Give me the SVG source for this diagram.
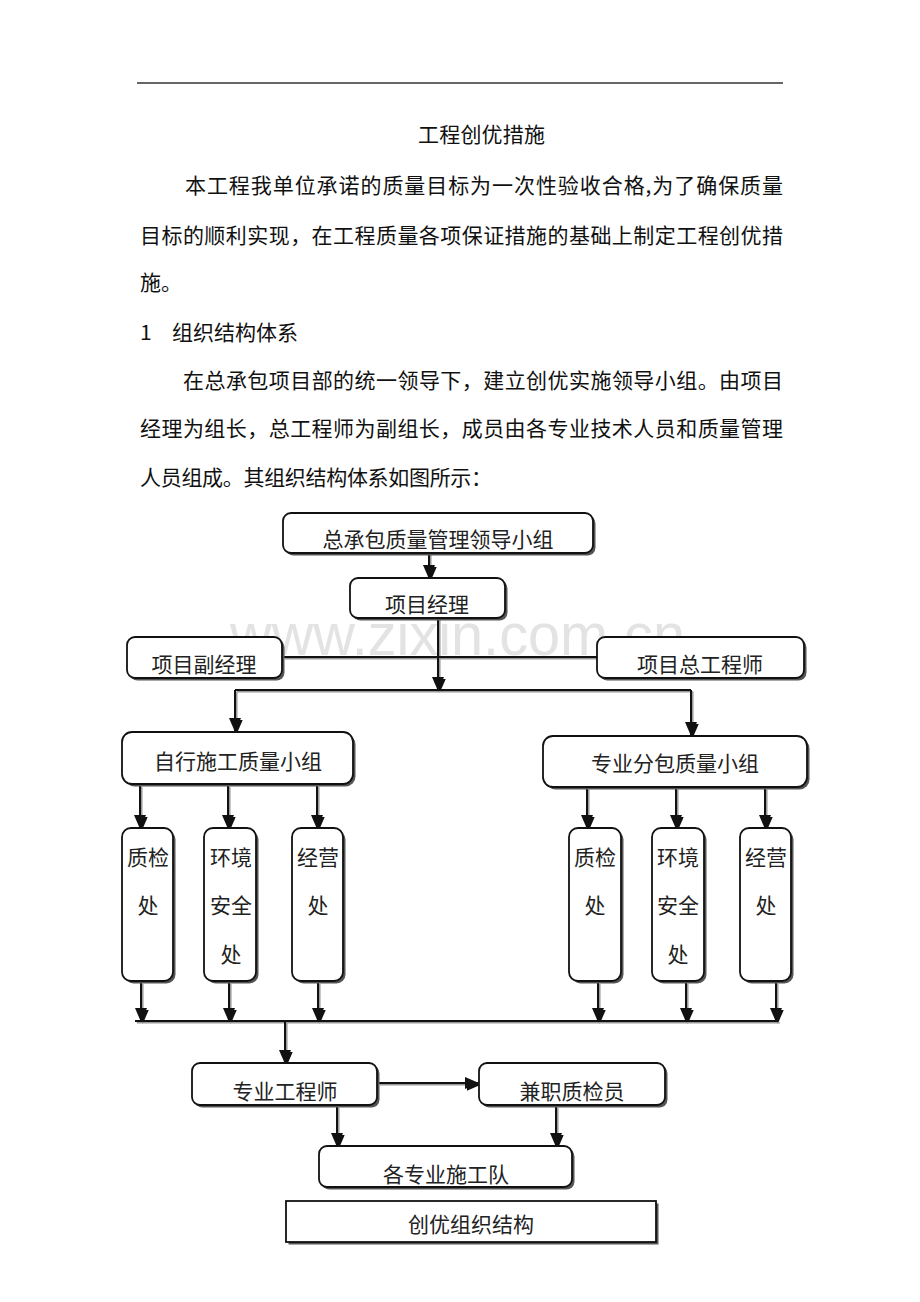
<svg xmlns="http://www.w3.org/2000/svg" xmlns:xlink="http://www.w3.org/1999/xlink" width="920" height="1302" viewBox="0 0 920 1302">
<style>
.t{font-family:"Noto Sans CJK SC","Liberation Serif",sans-serif;font-size:21px;fill:#111}
.d{font-family:"Noto Sans CJK SC","Liberation Sans",sans-serif;font-size:21px;fill:#222;text-anchor:middle}
.box{fill:#fff;stroke:#111;stroke-width:1.8}
.sh{fill:#555}
.wm{font-family:"Liberation Sans",Arial,sans-serif;font-size:60px;fill:#e3e3e3}
</style>
<defs>
<marker id="ah" markerUnits="userSpaceOnUse" markerWidth="14" markerHeight="12" refX="13" refY="6" orient="auto" viewBox="0 0 14 12">
<path d="M0,0 L14,6 L0,12 Z" fill="#111"/>
</marker>
</defs>
<rect width="920" height="1302" fill="#fff"/>
<text class="wm" x="230" y="655" textLength="455" lengthAdjust="spacingAndGlyphs">www.zixin.com.cn</text>
<line x1="137" y1="83" x2="783" y2="83" stroke="#333" stroke-width="1.5"/>
<text class="t" x="418" y="142" font-size="20" textLength="127">工程创优措施</text>
<text class="t" x="185" y="193" textLength="598">本工程我单位承诺的质量目标为一次性验收合格,为了确保质量</text>
<text class="t" x="140" y="243" textLength="643">目标的顺利实现，在工程质量各项保证措施的基础上制定工程创优措</text>
<text class="t" x="140" y="290">施。</text>
<text class="t" x="140" y="340">1</text>
<text class="t" x="172" y="340">组织结构体系</text>
<text class="t" x="183" y="388" textLength="600">在总承包项目部的统一领导下，建立创优实施领导小组。由项目</text>
<text class="t" x="140" y="436" textLength="643">经理为组长，总工程师为副组长，成员由各专业技术人员和质量管理</text>
<text class="t" x="140" y="485" textLength="352">人员组成。其组织结构体系如图所示：</text>

<g stroke="#999" stroke-width="1.5" fill="none"><use xlink:href="#connectors" transform="translate(1.8,1.8)"/></g>
<g stroke="#111" stroke-width="2" fill="none">
<g id="connectors">
<path d="M429,553 V578" marker-end="url(#ah)"/>
<path d="M283,657 H597"/>
<path d="M438,618 V690" marker-end="url(#ah)"/>
<path d="M235,690 H691"/>
<path d="M235,690 V731" marker-end="url(#ah)"/>
<path d="M691,690 V735" marker-end="url(#ah)"/>
<path d="M140,785 V828" marker-end="url(#ah)"/>
<path d="M228,785 V828" marker-end="url(#ah)"/>
<path d="M317,785 V828" marker-end="url(#ah)"/>
<path d="M587,788 V828" marker-end="url(#ah)"/>
<path d="M676,788 V828" marker-end="url(#ah)"/>
<path d="M765,788 V828" marker-end="url(#ah)"/>
<path d="M141,982 V1021" marker-end="url(#ah)"/>
<path d="M229,982 V1021" marker-end="url(#ah)"/>
<path d="M318,982 V1021" marker-end="url(#ah)"/>
<path d="M598,982 V1021" marker-end="url(#ah)"/>
<path d="M686,982 V1021" marker-end="url(#ah)"/>
<path d="M776,982 V1021" marker-end="url(#ah)"/>
<path d="M135,1021 H778"/>
<path d="M285,1021 V1063" marker-end="url(#ah)"/>
<path d="M378,1083 H478" marker-end="url(#ah)"/>
<path d="M337,1106 V1146" marker-end="url(#ah)"/>
<path d="M556,1106 V1146" marker-end="url(#ah)"/>
</g>
</g>

<g id="n-leader"><rect class="sh" x="285.5" y="515.5" width="310" height="40" rx="8"/><rect class="box" x="283" y="513" width="310" height="40" rx="8"/><text class="d" x="438" y="547">总承包质量管理领导小组</text></g>
<g id="n-pm"><rect class="sh" x="352.5" y="580.5" width="155" height="40" rx="8"/><rect class="box" x="350" y="578" width="155" height="40" rx="8"/><text class="d" x="427" y="612">项目经理</text></g>
<g id="n-dpm"><rect class="sh" x="129.5" y="639.5" width="155" height="41" rx="8"/><rect class="box" x="127" y="637" width="155" height="41" rx="8"/><text class="d" x="204" y="672">项目副经理</text></g>
<g id="n-chief"><rect class="sh" x="599.5" y="639.5" width="207" height="41" rx="8"/><rect class="box" x="597" y="637" width="207" height="41" rx="8"/><text class="d" x="700" y="672">项目总工程师</text></g>
<g id="n-self"><rect class="sh" x="124.5" y="734.5" width="231" height="52" rx="10"/><rect class="box" x="122" y="732" width="231" height="52" rx="10"/><text class="d" x="238" y="769">自行施工质量小组</text></g>
<g id="n-sub"><rect class="sh" x="545.5" y="738.5" width="264" height="51" rx="10"/><rect class="box" x="543" y="736" width="264" height="51" rx="10"/><text class="d" x="675" y="771">专业分包质量小组</text></g>

<g id="n-l1"><rect class="sh" x="124.5" y="830.5" width="51" height="153" rx="9"/><rect class="box" x="122" y="828" width="51" height="153" rx="9"/><text class="d" x="148" y="865">质检</text><text class="d" x="148" y="913">处</text></g>
<g id="n-l2"><rect class="sh" x="206.5" y="830.5" width="52" height="153" rx="9"/><rect class="box" x="204" y="828" width="52" height="153" rx="9"/><text class="d" x="231" y="865">环境</text><text class="d" x="231" y="913">安全</text><text class="d" x="231" y="962">处</text></g>
<g id="n-l3"><rect class="sh" x="294.5" y="830.5" width="51" height="153" rx="9"/><rect class="box" x="292" y="828" width="51" height="153" rx="9"/><text class="d" x="318" y="865">经营</text><text class="d" x="318" y="913">处</text></g>
<g id="n-r1"><rect class="sh" x="571.5" y="830.5" width="52" height="153" rx="9"/><rect class="box" x="569" y="828" width="52" height="153" rx="9"/><text class="d" x="595" y="865">质检</text><text class="d" x="595" y="913">处</text></g>
<g id="n-r2"><rect class="sh" x="654.5" y="830.5" width="52" height="153" rx="9"/><rect class="box" x="652" y="828" width="52" height="153" rx="9"/><text class="d" x="678" y="865">环境</text><text class="d" x="678" y="913">安全</text><text class="d" x="678" y="962">处</text></g>
<g id="n-r3"><rect class="sh" x="742.5" y="830.5" width="51" height="153" rx="9"/><rect class="box" x="740" y="828" width="51" height="153" rx="9"/><text class="d" x="766" y="865">经营</text><text class="d" x="766" y="913">处</text></g>

<g id="n-eng"><rect class="sh" x="194.5" y="1065.5" width="185" height="42" rx="8"/><rect class="box" x="192" y="1063" width="185" height="42" rx="8"/><text class="d" x="285" y="1099">专业工程师</text></g>
<g id="n-qc"><rect class="sh" x="481.5" y="1065.5" width="186" height="42" rx="8"/><rect class="box" x="479" y="1063" width="186" height="42" rx="8"/><text class="d" x="572" y="1099">兼职质检员</text></g>
<g id="n-team"><rect class="sh" x="321.5" y="1148.5" width="253" height="41" rx="8"/><rect class="box" x="319" y="1146" width="253" height="41" rx="8"/><text class="d" x="446" y="1182">各专业施工队</text></g>
<g id="caption"><rect class="sh" x="288.5" y="1203.5" width="370" height="41"/><rect class="box" x="286" y="1201" width="370" height="41"/><text class="d" x="471" y="1232">创优组织结构</text></g>
</svg>
